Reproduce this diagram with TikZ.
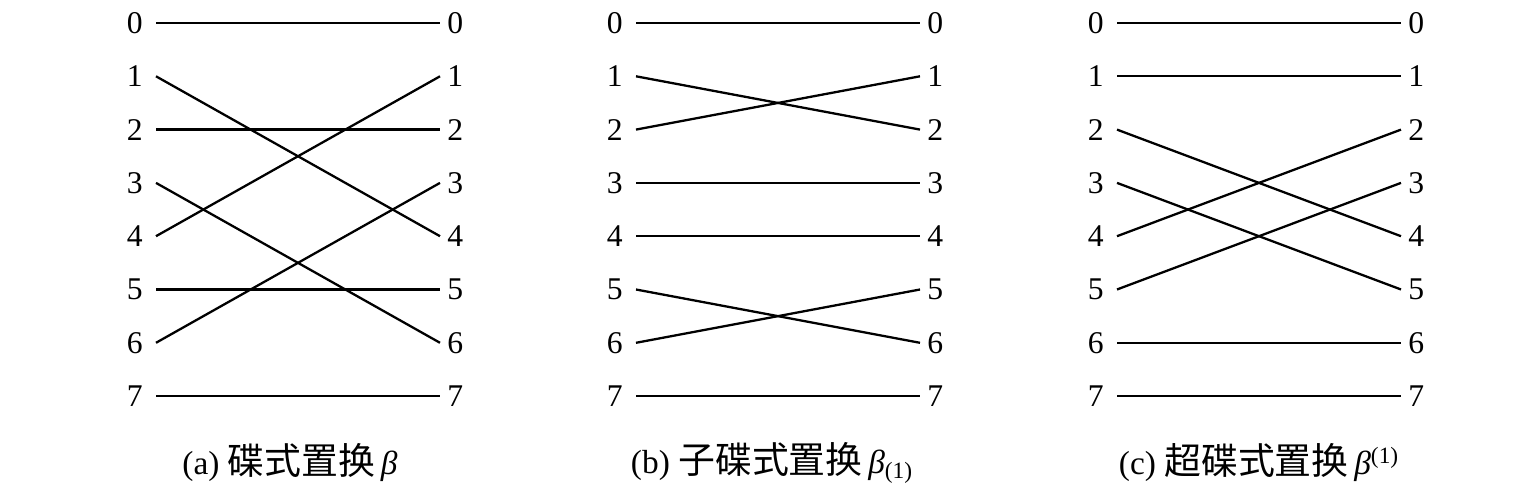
\documentclass[tikz,border=0pt]{standalone}
\usepackage{fontspec}
\setmainfont{Liberation Serif}
\newfontfamily\cjk{Noto Sans CJK SC}
\usepackage{tikz}
\tikzset{every picture/.append style={font=\fontsize{18}{20}\selectfont}}
\newcommand{\capzh}[1]{{\cjk\fontsize{21}{24}\selectfont #1}}

\begin{document}
\begin{tikzpicture}[x=0.02cm,y=-0.02cm,
    lnum/.style={anchor=east,inner xsep=0.26cm,inner ysep=0pt},
    rnum/.style={anchor=west,inner xsep=0.14cm,inner ysep=0pt},
    wire/.style={line width=1.3pt},
    figcap/.style={font=\fontsize{19}{22}\selectfont,inner sep=0pt}]
    \useasboundingbox (0,0) rectangle (1526,496);
    % index columns of the three panels
    \foreach \p/\x in {a/156,b/636,c/1117} {
      \foreach \i in {0,...,7} {
        \node[lnum] (\p-l\i) at (\x,23+53.3*\i) {\i};
        \node[rnum] (\p-r\i) at (\x+284,23+53.3*\i) {\i};
      }
    }
    \foreach \l/\r in {0/0,1/4,2/2,3/6,4/1,5/5,6/3,7/7} {\draw[wire] (a-l\l.east) -- (a-r\r.west);}
    \foreach \l/\r in {0/0,1/2,2/1,3/3,4/4,5/6,6/5,7/7} {\draw[wire] (b-l\l.east) -- (b-r\r.west);}
    \foreach \l/\r in {0/0,1/1,2/4,3/5,4/2,5/3,6/6,7/7} {\draw[wire] (c-l\l.east) -- (c-r\r.west);}
    \node[figcap] (a-cap) at (290,463) {(a) \capzh{碟式置换}\,\textit{β}};
    \node[figcap] (b-cap) at (772,463) {(b) \capzh{子碟式置换}\,\textit{β}\textsubscript{(1)}};
    \node[figcap] (c-cap) at (1259,463) {(c) \capzh{超碟式置换}\,\textit{β}\textsuperscript{(1)}};
  \end{tikzpicture}
\end{document}
